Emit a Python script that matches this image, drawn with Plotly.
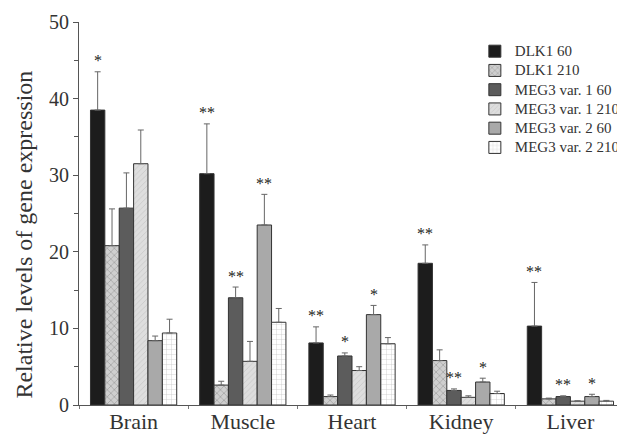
import plotly.graph_objects as go

categories = ["Brain", "Muscle", "Heart", "Kidney", "Liver"]
series_names = ["DLK1 60", "DLK1 210", "MEG3 var. 1 60", "MEG3 var. 1 210", "MEG3 var. 2 60", "MEG3 var. 2 210"]

dlk1_60 = [38.5, 30.2, 8.1, 18.5, 10.3]
dlk1_60_err = [5.0, 6.5, 2.1, 2.4, 5.7]
dlk1_210 = [20.8, 2.6, 1.1, 5.8, 0.8]
dlk1_210_err = [4.8, 0.5, 0.2, 1.4, 0.1]
meg3v1_60 = [25.7, 14.0, 6.4, 1.9, 1.1]
meg3v1_60_err = [4.6, 1.4, 0.4, 0.2, 0.1]
meg3v1_210 = [31.5, 5.7, 4.5, 1.0, 0.5]
meg3v1_210_err = [4.4, 2.6, 0.5, 0.2, 0.05]
meg3v2_60 = [8.4, 23.5, 11.8, 3.0, 1.1]
meg3v2_60_err = [0.6, 4.0, 1.2, 0.5, 0.3]
meg3v2_210 = [9.4, 10.8, 8.0, 1.5, 0.5]
meg3v2_210_err = [1.8, 1.8, 0.8, 0.3, 0.1]

dlk1_60_sig = ["*", "**", "**", "**", "**"]
dlk1_210_sig = ["", "", "", "", ""]
meg3v1_60_sig = ["", "**", "*", "**", "**"]
meg3v1_210_sig = ["", "", "", "", ""]
meg3v2_60_sig = ["", "**", "*", "*", "*"]
meg3v2_210_sig = ["", "", "", "", ""]

values = [dlk1_60, dlk1_210, meg3v1_60, meg3v1_210, meg3v2_60, meg3v2_210]
errors = [dlk1_60_err, dlk1_210_err, meg3v1_60_err, meg3v1_210_err, meg3v2_60_err, meg3v2_210_err]
sigs = [dlk1_60_sig, dlk1_210_sig, meg3v1_60_sig, meg3v1_210_sig, meg3v2_60_sig, meg3v2_210_sig]

styles = [
    dict(color="#1c1c1c", pattern=dict(shape="")),
    dict(color="#cfcfcf", pattern=dict(shape="x", fgcolor="#555555", size=5, solidity=0.2)),
    dict(color="#5c5c5c", pattern=dict(shape="")),
    dict(color="#dedede", pattern=dict(shape="/", fgcolor="#b0b0b0", size=4, solidity=0.2)),
    dict(color="#a9a9a9", pattern=dict(shape="")),
    dict(color="#ffffff", pattern=dict(shape="+", fgcolor="#8a8a8a", size=5, solidity=0.15)),
]

serif = "Liberation Serif, Times New Roman, serif"
bargap = 0.21

fig = go.Figure()
for name, v, e, st in zip(series_names, values, errors, styles):
    fig.add_trace(go.Bar(
        name='<span style="font-size:15px">' + name + '</span>', x=categories, y=v,
        marker=dict(color=st["color"], pattern=st["pattern"], line=dict(color="#333333", width=1)),
        error_y=dict(type="data", array=e, arrayminus=[0] * len(e), symmetric=False,
                     color="#666666", thickness=1, width=3),
    ))

n = len(series_names)
bw = (1 - bargap) / n
for i, (v, e, s) in enumerate(zip(values, errors, sigs)):
    for j, cat in enumerate(categories):
        if s[j]:
            xc = j - (1 - bargap) / 2 + (i + 0.5) * bw
            fig.add_annotation(x=xc, y=v[j] + e[j], text=s[j], showarrow=False,
                               xref="x", yref="y", yanchor="middle", yshift=11,
                               font=dict(family=serif, size=16, color="#222222"))

fig.add_annotation(text="Relative levels of gene expression", textangle=-90,
                   xref="paper", yref="paper", x=-0.1, y=0.446, xanchor="center", yanchor="middle",
                   showarrow=False, font=dict(family=serif, size=24, color="#333333"))

# page body adds an 8px offset; size/margins compensate so the plot area lands where the reference has it
fig.update_layout(
    width=617, height=427,
    margin=dict(l=71, r=0, t=14, b=30, autoexpand=False),
    paper_bgcolor="white", plot_bgcolor="white",
    barmode="group", bargap=bargap, bargroupgap=0,
    font=dict(family=serif, color="#333333"),
    showlegend=True,
    legend=dict(x=0.725, y=0.962, xanchor="left", yanchor="top", bgcolor="rgba(0,0,0,0)",
                font=dict(family=serif, size=12.5, color="#333333"), itemwidth=30,
                tracegroupgap=0),
)
fig.update_xaxes(type="category", showline=True, linecolor="#555555", linewidth=1,
                 ticks="outside", tickson="boundaries", ticklen=3, tickcolor="#777777",
                 tickfont=dict(family=serif, size=22, color="#333333"), showgrid=False,
                 ticklabelstandoff=-3,
                 range=[-0.5, 4.5], automargin=False)
fig.update_yaxes(range=[0, 50], dtick=10, showline=True, linecolor="#555555", linewidth=1,
                 ticks="outside", ticklen=5, tickcolor="#555555", showgrid=False, zeroline=False,
                 tickfont=dict(family=serif, size=20, color="#333333"), automargin=False,
                 minor=dict(dtick=5, ticks="outside", ticklen=4, tickcolor="#555555"))

fig.write_html("out.html")
